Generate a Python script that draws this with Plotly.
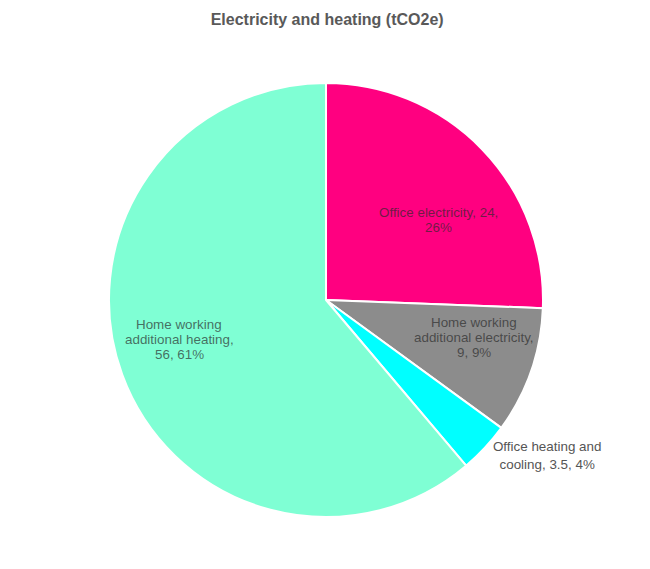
import math
import plotly.graph_objects as go

labels = ["Office electricity", "Home working additional electricity",
          "Office heating and cooling", "Home working additional heating"]
values = [23.6, 8.7, 3.5, 56.4]
display_lines = [
    ["Office electricity, 24,", "26%"],
    ["Home working", "additional electricity,", "9, 9%"],
    ["Office heating and", "cooling, 3.5, 4%"],
    ["Home working", "additional heating,", "56, 61%"],
]
inside = [True, True, False, True]
colors = ["#FF0080", "#8C8C8C", "#00FFFF", "#7FFFD4"]

W, H = 650, 569
M = dict(l=2, r=16, t=75, b=60)
FONT = "Liberation Sans, Arial, sans-serif"
FS = 13.4
LINE_H = 15

fig = go.Figure(go.Pie(
    labels=labels,
    values=values,
    text=[("" if ins else "<br>".join(ls)) for ls, ins in zip(display_lines, inside)],
    textinfo="text",
    textposition=[("inside" if ins else "outside") for ins in inside],
    sort=False,
    direction="clockwise",
    rotation=0,
    marker=dict(colors=colors, line=dict(color="white", width=2)),
    outsidetextfont=dict(family=FONT, size=FS, color="#555555"),
    showlegend=False,
    automargin=False,
    hoverinfo="label+percent",
))

# inside labels placed around each slice's mid-angle
pw = W - M["l"] - M["r"]
ph = H - M["t"] - M["b"]
radius = min(pw, ph) / 2
total = sum(values)
cum = 0.0
for v, lines, ins in zip(values, display_lines, inside):
    mid = (cum + v / 2) / total * 2 * math.pi
    cum += v
    if not ins:
        continue
    dx = 0.72 * radius * math.sin(mid)
    dy = 0.53 * radius * math.cos(mid)
    n = len(lines)
    for i, line in enumerate(lines):
        off = ((n - 1) / 2 - i) * LINE_H
        fig.add_annotation(
            x=0.5 + dx / pw, y=0.5 + (dy + off) / ph, xref="paper", yref="paper",
            xanchor="center", yanchor="middle",
            text=line, showarrow=False, align="center",
            font=dict(family=FONT, size=FS, color="rgba(40,40,40,0.68)"),
        )

fig.update_layout(
    width=W, height=H,
    margin=M,
    paper_bgcolor="white",
    title=dict(text="<b>Electricity and heating (tCO2e)</b>", x=0.491, xanchor="center",
               y=1 - 11 / H, yanchor="middle",
               font=dict(family=FONT, size=16, color="#595959")),
)

fig.write_html("out.html")
